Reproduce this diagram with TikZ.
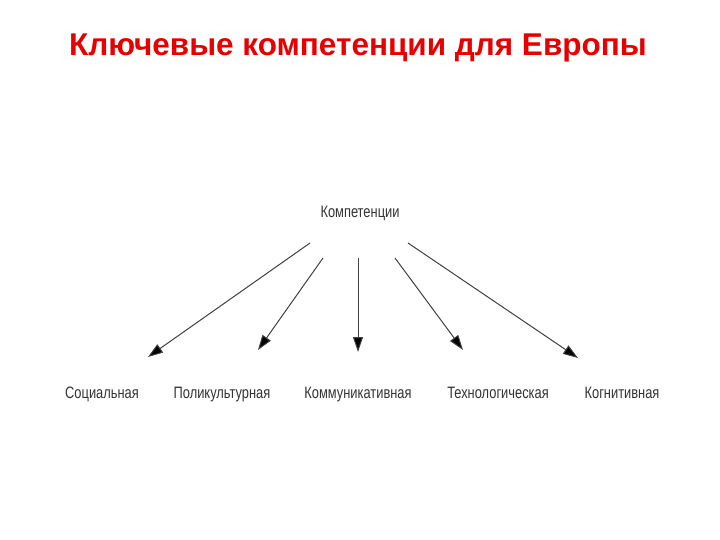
\documentclass[tikz,border=0pt]{standalone}
\usepackage{fontspec}
\setmainfont{Liberation Sans}
\usetikzlibrary{arrows.meta}
\begin{document}
\begin{tikzpicture}[x=1pt,y=-1pt,
  lbl/.style={font=\fontsize{16.5}{19}\selectfont, text=black!80, xscale=0.78, inner sep=0, anchor=base},
  arr/.style={draw=black!75, line width=1pt, -{Triangle[length=15pt,width=10pt,fill=black]}}]
\useasboundingbox (0,0) rectangle (720,540);
\node[font=\bfseries\fontsize{31.5}{36}\selectfont, text={rgb,255:red,230;green,0;blue,0}] (t) at (358,48) {Ключевые компетенции для Европы};
\node[lbl] (k) at (360,218) {Компетенции};
\node[lbl] (a) at (102,398) {Социальная};
\node[lbl] (b) at (222,398) {Поликультурная};
\node[lbl] (c) at (358,398) {Коммуникативная};
\node[lbl] (d) at (498,398) {Технологическая};
\node[lbl] (e) at (622,398) {Когнитивная};
\coordinate (ka) at (310,243); \coordinate (ea) at (148,357);
\coordinate (kb) at (323,258); \coordinate (eb) at (258,350);
\coordinate (kc) at (358,258); \coordinate (ec) at (358,352);
\coordinate (kd) at (395,258); \coordinate (ed) at (463,350);
\coordinate (ke) at (408,243); \coordinate (ee) at (578,358);
\draw[arr] (ka) -- (ea);
\draw[arr] (kb) -- (eb);
\draw[arr] (kc) -- (ec);
\draw[arr] (kd) -- (ed);
\draw[arr] (ke) -- (ee);
\end{tikzpicture}
\end{document}
